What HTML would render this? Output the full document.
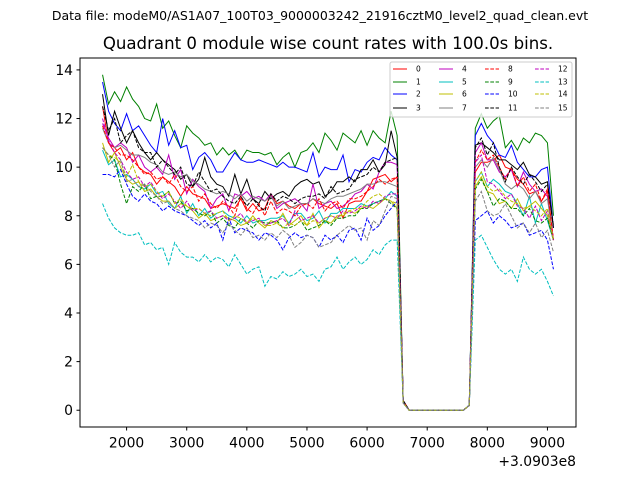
<!DOCTYPE html>
<html><head><meta charset="utf-8"><style>
html,body{margin:0;padding:0;background:#fff;}
svg{display:block;font-family:"DejaVu Sans","Liberation Sans",sans-serif;}
</style></head><body>
<svg id="chart" width="640" height="480" viewBox="0 0 640 480">
<rect width="640" height="480" fill="#fff"/>
<text x="320" y="20" font-size="12.5" text-anchor="middle">Data file: modeM0/AS1A07_100T03_9000003242_21916cztM0_level2_quad_clean.evt</text>
<text x="328" y="49" font-size="16.6" text-anchor="middle">Quadrant 0 module wise count rates with 100.0s bins.</text>
<g id="plot"></g>
<rect x="80" y="58" width="496" height="369" fill="none" stroke="#000" stroke-width="1"/>
<g id="axes"></g>
<text x="576" y="466" font-size="13.9" text-anchor="end">+3.0903e8</text>
<g id="legend"></g>
</svg>
<script>
const xStart = 1600, xStep = 100;
const gap = [0,0,0,0,0,0,0,0,0,0];
const drop = [0.4,0.4,0.4,0.4,0.4,0.4,0.3,0.4,0.4,0.3,0.3,0.4,0.3,0.3,0.3,0.3];
const rise = [0.2,0.2,0.2,0.2,0.2,0.2,0.2,0.2,0.2,0.2,0.2,0.2,0.2,0.2,0.2,0.2];
const left0=[12.5,11.0,10.6,10.8,10.3,10.6,10.0,9.8,9.7,9.3,9.6,9.4,9.2,8.8,9.2,8.9,8.8,8.7,8.3,8.4,8.5,8.4,8.3,8.7,8.2,8.5,8.2,8.3,8.9,8.5,8.6,8.4,8.3,8.5,8.5,8.7,8.5,8.4,8.3,8.5,7.9,8.5,8.6,8.6,9.0,9.5,9.6,9.7,9.4,9.6];
const right0=[9.8,10.2,10.2,10.3,10.5,10.0,9.9,9.5,9.3,8.9,9.0,8.6,9.0,7.0];
const left1=[13.8,12.6,13.1,12.7,13.3,12.8,12.5,12.0,11.9,12.6,11.6,11.9,11.3,10.8,11.7,11.4,11.2,10.9,11.0,10.5,10.8,10.5,10.7,10.3,10.7,10.6,10.6,10.5,10.6,10.1,10.4,10.6,10.0,10.6,10.7,11.0,10.6,11.4,11.1,10.7,11.4,11.2,11.0,11.5,10.9,11.5,11.2,11.0,12.3,11.3];
const right1=[11.6,12.2,11.6,11.9,12.1,10.8,11.1,10.7,11.2,11.0,11.4,11.3,11.0,8.0];
const left2=[13.5,12.3,11.8,11.5,12.2,11.5,11.7,11.3,10.9,10.6,12.0,10.9,11.5,10.8,10.9,9.9,10.4,10.6,10.3,9.8,9.8,10.2,10.6,10.3,10.2,10.2,10.3,10.2,10.1,10.0,10.2,10.0,10.0,9.9,9.8,10.6,9.6,10.0,9.9,9.9,10.5,9.4,9.9,9.8,10.2,10.4,10.3,10.8,10.5,10.3];
const right2=[11.3,11.8,11.3,11.0,10.5,10.4,10.9,10.2,9.9,9.6,9.6,9.9,10.0,7.5];
const left3=[13.0,11.3,12.3,11.6,11.0,11.5,11.0,10.6,10.3,10.6,10.3,10.1,9.9,9.5,9.7,9.2,9.5,10.4,9.6,9.3,9.2,8.8,9.7,8.9,9.5,8.7,8.5,9.0,8.7,8.9,9.0,8.8,9.2,9.4,9.5,9.3,9.4,8.8,9.0,9.4,9.4,9.6,9.4,9.9,9.9,10.3,9.8,10.1,11.5,10.4];
const right3=[10.9,11.0,10.8,10.6,10.3,10.3,10.1,9.9,10.2,9.7,9.6,9.3,9.4,7.5];
const left4=[11.8,11.2,10.8,11.0,10.8,10.2,10.5,10.0,9.8,10.0,9.7,10.5,9.5,9.9,8.9,9.5,9.2,9.0,8.3,8.7,8.9,8.2,8.9,8.8,9.0,8.7,8.8,8.6,8.9,8.3,8.5,8.6,8.7,8.5,8.2,9.3,8.3,8.5,8.6,8.3,8.4,8.6,8.9,9.0,9.3,9.1,9.8,10.2,10.2,10.1];
const right4=[10.6,11.0,10.3,10.3,9.8,9.6,9.9,9.2,9.8,9.3,9.0,9.1,8.8,7.0];
const left5=[10.7,10.1,10.3,9.6,9.7,9.5,9.2,9.1,9.3,8.9,9.0,8.5,8.3,8.8,8.1,8.5,8.0,8.3,7.9,8.1,8.2,8.0,7.9,7.7,8.0,7.7,7.8,7.8,7.9,7.9,8.0,7.7,8.1,8.1,7.8,7.9,8.2,7.7,8.1,8.1,8.3,8.3,8.3,8.5,8.4,8.5,8.6,8.7,9.0,8.8];
const right5=[9.4,9.8,9.2,9.5,9.3,9.0,8.9,8.5,8.0,8.8,7.7,8.5,7.8,7.0];
const left6=[11.0,10.2,10.6,10.0,9.5,9.3,9.4,9.0,9.1,8.8,8.6,8.6,8.3,8.5,8.4,8.2,7.9,8.1,7.8,7.9,8.0,7.9,7.8,7.6,7.7,8.0,7.7,7.5,7.8,7.7,8.1,7.6,7.8,8.0,7.6,8.1,7.5,7.8,7.7,8.0,8.0,8.2,8.1,8.3,8.4,8.3,8.5,8.7,8.6,8.3];
const right6=[9.2,9.6,9.0,8.9,8.5,8.6,8.3,8.7,8.2,8.4,8.6,8.3,8.0,7.0];
const left7=[11.6,11.0,10.8,10.9,10.7,10.5,10.5,10.4,10.2,10.1,9.8,9.7,9.8,9.6,9.7,9.4,9.3,9.1,9.0,8.9,9.0,8.9,8.7,8.9,8.6,8.8,8.7,8.6,8.8,8.4,8.6,8.3,8.4,8.5,8.5,8.7,8.6,8.5,8.7,8.8,8.8,8.9,9.0,9.1,9.3,9.3,9.4,9.4,9.3,9.2];
const right7=[10.0,10.3,10.0,10.4,9.9,9.3,9.1,9.3,9.1,8.7,9.0,8.5,8.7,7.0];
const left8=[11.7,11.0,10.8,10.5,10.5,10.3,10.0,9.7,9.8,9.5,9.6,9.3,9.7,9.2,9.0,9.2,8.6,8.9,8.5,8.3,8.6,8.4,8.0,8.8,8.3,8.1,8.5,8.0,8.6,8.1,8.3,8.2,8.0,8.4,8.5,8.3,8.7,8.2,8.5,8.6,8.3,8.7,8.7,8.8,9.0,9.2,9.5,9.3,9.5,9.6];
const right8=[10.2,10.7,10.3,10.5,10.0,9.5,10.0,9.2,9.6,9.0,9.3,8.6,9.1,7.0];
const left9=[10.8,10.5,10.3,9.3,8.5,9.2,9.0,9.3,8.7,8.8,8.8,9.0,8.5,8.6,8.2,8.3,8.1,8.0,8.2,7.7,7.9,7.6,7.5,7.9,7.7,7.5,7.8,7.7,7.7,7.8,7.5,7.5,7.6,7.8,7.4,7.5,7.6,7.8,7.6,7.9,7.9,8.0,8.0,8.3,8.3,8.5,8.6,8.7,8.5,8.3];
const right9=[9.1,9.5,9.0,8.4,8.7,8.6,8.3,8.3,8.0,8.3,7.8,7.7,7.9,7.0];
const left10=[9.7,9.7,9.6,9.9,9.3,8.8,8.6,8.9,8.6,8.5,8.2,8.4,8.2,8.1,8.0,7.8,7.6,7.8,7.5,7.7,7.0,7.9,7.3,7.5,7.4,7.3,7.0,7.3,7.2,7.0,6.6,7.1,7.3,7.1,7.2,7.1,6.7,7.2,7.0,7.2,6.9,7.4,7.5,7.0,7.9,7.4,7.6,8.0,8.3,8.6];
const right10=[7.8,8.0,8.2,7.7,8.0,7.8,7.5,7.6,7.7,7.2,7.3,7.4,7.0,5.8];
const left11=[12.5,11.5,12.0,11.0,11.3,11.5,10.8,10.6,10.6,10.0,10.3,10.0,9.7,10.0,9.3,9.2,9.8,9.4,9.0,9.1,8.8,8.6,8.5,8.8,8.4,8.7,8.4,8.2,8.9,8.6,8.8,8.7,8.5,8.7,8.8,8.8,8.9,8.7,9.2,8.9,9.0,9.1,9.5,9.6,9.7,10.0,9.8,10.2,10.3,10.4];
const right11=[10.8,11.2,10.5,11.0,10.0,9.4,10.0,9.6,9.3,9.7,9.4,9.0,9.3,7.6];
const left12=[12.0,11.1,10.6,10.3,9.8,9.5,9.6,9.2,9.4,9.0,8.7,8.9,8.6,8.3,8.6,8.2,8.3,8.1,8.2,7.9,8.0,7.8,7.9,8.1,7.7,7.8,7.9,7.6,7.7,7.8,7.9,7.6,8.2,7.8,7.9,8.0,7.7,7.9,8.0,7.9,8.2,8.1,8.2,8.4,8.3,8.6,8.5,8.8,8.9,8.9];
const right12=[10.2,10.5,9.4,9.3,9.0,8.7,8.9,8.4,8.3,7.9,8.4,7.8,8.2,7.0];
const left13=[8.5,7.9,7.5,7.3,7.2,7.2,7.3,6.8,6.9,6.6,6.7,6.0,6.9,6.5,6.3,6.3,6.1,6.4,6.1,6.3,6.2,5.9,6.4,6.0,5.6,5.8,5.9,5.1,5.5,5.4,5.7,5.5,5.6,5.8,5.5,5.6,5.3,5.8,5.9,6.3,5.8,6.1,6.3,6.0,6.2,6.6,6.4,6.8,7.0,7.0];
const right13=[7.0,7.2,6.7,6.2,5.8,5.6,5.8,5.3,6.3,5.8,5.6,5.8,5.3,4.7];
const left14=[10.8,10.5,10.4,10.2,9.6,10.1,9.4,9.2,9.3,9.0,8.8,9.0,8.5,8.7,8.4,8.3,8.3,8.1,8.0,8.1,8.2,7.8,8.0,7.9,7.7,7.9,7.8,7.6,7.6,7.7,7.5,7.7,7.6,7.8,7.6,7.8,7.7,7.9,8.0,7.9,8.1,8.2,8.3,8.3,8.6,8.8,8.9,8.7,8.6,8.5];
const right14=[9.4,9.8,9.2,9.0,9.1,8.8,8.6,8.5,8.3,8.4,8.2,8.0,8.3,7.0];
const left15=[10.8,10.5,10.0,10.3,9.4,9.5,9.2,9.3,9.0,8.8,8.5,8.6,8.3,8.2,8.0,7.9,7.8,7.5,7.7,7.6,7.3,7.7,7.4,7.2,7.5,7.1,7.2,7.0,7.3,7.1,7.4,7.2,6.7,6.9,7.2,7.1,6.7,6.8,6.9,7.2,7.4,7.6,7.4,7.5,7.0,7.8,7.6,8.2,8.8,8.7];
const right15=[8.6,9.0,8.2,8.0,8.1,8.5,8.0,7.5,7.7,7.3,7.7,7.1,7.4,6.5];
const seriesLabels=["0","1","2","3","4","5","6","7","8","9","10","11","12","13","14","15"];
const xTicks=[2000,3000,4000,5000,6000,7000,8000,9000];
const xTickLabels=["2000","3000","4000","5000","6000","7000","8000","9000"];
const yTicks=[0,2,4,6,8,10,12,14];
const yTickLabels=["0","2","4","6","8","10","12","14"];

const lefts=[left0,left1,left2,left3,left4,left5,left6,left7,left8,left9,left10,left11,left12,left13,left14,left15];
const rights=[right0,right1,right2,right3,right4,right5,right6,right7,right8,right9,right10,right11,right12,right13,right14,right15];
const colors=["#ff0000","#008000","#0000ff","#000000","#bf00bf","#00bfbf","#bfbf00","#808080"];
const NS="http://www.w3.org/2000/svg";
const X0=80,X1=576,Y0=58,Y1=427;
const xmin=1225,xmax=9475,ymin=-0.69,ymax=14.49;
function sx(v){return X0+(v-xmin)/(xmax-xmin)*(X1-X0);}
function sy(v){return Y1-(v-ymin)/(ymax-ymin)*(Y1-Y0);}
const plot=document.getElementById('plot');
for(let i=0;i<16;i++){
  const vals=lefts[i].concat([drop[i]],gap,[rise[i]],rights[i]);
  const pts=vals.map((v,k)=>sx(xStart+k*xStep).toFixed(2)+','+sy(v).toFixed(2)).join(' ');
  const pl=document.createElementNS(NS,'polyline');
  pl.setAttribute('points',pts);
  pl.setAttribute('fill','none');
  pl.setAttribute('stroke',colors[i%8]);
  pl.setAttribute('stroke-width','1');
  if(i>=8)pl.setAttribute('stroke-dasharray','3.7,1.6');
  
  
  plot.appendChild(pl);
}
const axes=document.getElementById('axes');
xTicks.forEach((t,k)=>{
  const x=sx(t);
  const ln=document.createElementNS(NS,'line');
  ln.setAttribute('x1',x);ln.setAttribute('x2',x);ln.setAttribute('y1',Y1);ln.setAttribute('y2',Y1+3.5);
  ln.setAttribute('stroke','#000');
  
  
  axes.appendChild(ln);
  const tx=document.createElementNS(NS,'text');
  tx.setAttribute('x',x);tx.setAttribute('y',Y1+20.5);tx.setAttribute('font-size','13.9');tx.setAttribute('text-anchor','middle');
  tx.textContent=xTickLabels[k];
  
  
  axes.appendChild(tx);
});
yTicks.forEach((t,k)=>{
  const y=sy(t);
  const ln=document.createElementNS(NS,'line');
  ln.setAttribute('x1',X0-3.5);ln.setAttribute('x2',X0);ln.setAttribute('y1',y);ln.setAttribute('y2',y);
  ln.setAttribute('stroke','#000');
  
  
  axes.appendChild(ln);
  const tx=document.createElementNS(NS,'text');
  tx.setAttribute('x',X0-7);tx.setAttribute('y',y+5);tx.setAttribute('font-size','13.9');tx.setAttribute('text-anchor','end');
  tx.textContent=yTickLabels[k];
  
  
  axes.appendChild(tx);
});
const lg=document.getElementById('legend');
const box=document.createElementNS(NS,'rect');
box.setAttribute('x',390);box.setAttribute('y',62);box.setAttribute('width',182);box.setAttribute('height',55);box.setAttribute('rx',2);
box.setAttribute('fill','#fff');box.setAttribute('fill-opacity','0.8');box.setAttribute('stroke','#ccc');


lg.appendChild(box);
const colX=[393,439,485,535],rowY=[69,82,94,108];
for(let i=0;i<16;i++){
  const c=Math.floor(i/4),r=i%4;
  const ln=document.createElementNS(NS,'line');
  ln.setAttribute('x1',colX[c]);ln.setAttribute('x2',colX[c]+14);ln.setAttribute('y1',rowY[r]);ln.setAttribute('y2',rowY[r]);
  ln.setAttribute('stroke',colors[i%8]);
  if(i>=8)ln.setAttribute('stroke-dasharray','3.7,1.6');
  
  
  lg.appendChild(ln);
  const tx=document.createElementNS(NS,'text');
  tx.setAttribute('x',colX[c]+23);tx.setAttribute('y',rowY[r]+2.7);tx.setAttribute('font-size','7.5');
  tx.textContent=seriesLabels[i];
  
  
  lg.appendChild(tx);
}
</script>
</body></html>
